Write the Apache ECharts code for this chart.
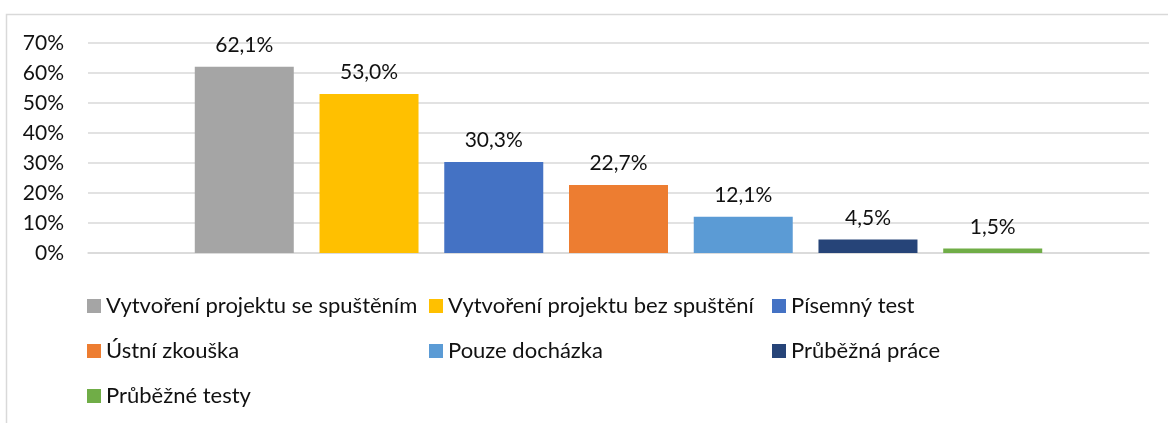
<!DOCTYPE html>
<html>
<head>
<meta charset="utf-8">
<script src="https://cdn.jsdelivr.net/npm/echarts@6/dist/echarts.min.js"></script>
<style>
  html, body { margin: 0; padding: 0; background: #fff; }
  #chart { width: 1168px; height: 423px; }
</style>
</head>
<body>
<div id="chart"></div>
<script>
// Forms of course assessment and share of respondents (%)
const seriesNames = [
  'Vytvoření projektu se spuštěním',
  'Vytvoření projektu bez spuštění',
  'Písemný test',
  'Ústní zkouška',
  'Pouze docházka',
  'Průběžná práce',
  'Průběžné testy'
];
const seriesValues = [62.1, 53.0, 30.3, 22.7, 12.1, 4.5, 1.5];
const seriesColors = ['#A5A5A5', '#FFC000', '#4472C4', '#ED7D31', '#5B9BD5', '#264478', '#70AD47'];
const yTicks = { min: 0, max: 70, interval: 10 };

const FONT = 'Lato, "Open Sans", sans-serif';
const TEXT = '#111';

const fmt = v => v.toFixed(1).replace('.', ',') + '%';

const series = seriesNames.map((name, i) => ({
  name: name,
  type: 'bar',
  data: [seriesValues[i]],
  barWidth: 99,
  barGap: '26%',
  itemStyle: { color: seriesColors[i] },
  label: {
    show: true,
    position: 'top',
    distance: 11,
    color: TEXT,
    fontFamily: FONT,
    fontSize: 21,
    formatter: p => fmt(p.value)
  }
}));

// legend laid out in three columns
const legendBase = {
  orient: 'vertical',
  itemWidth: 14,
  itemHeight: 14,
  itemGap: 23,
  icon: 'rect',
  textStyle: { color: TEXT, fontFamily: FONT, fontSize: 22, lineHeight: 22 },
  top: 290
};
const legends = [
  Object.assign({}, legendBase, { left: 82, data: [seriesNames[0], seriesNames[3], seriesNames[6]] }),
  Object.assign({}, legendBase, { left: 424, data: [seriesNames[1], seriesNames[4]] }),
  Object.assign({}, legendBase, { left: 767, data: [seriesNames[2], seriesNames[5]] })
];

const chart = echarts.init(document.getElementById('chart'), null, { renderer: 'canvas' });
chart.setOption({
  backgroundColor: '#fff',
  animation: false,
  graphic: [{
    type: 'polyline',
    shape: { points: [[6.5, 423], [6.5, 14.5], [1168, 14.5]] },
    style: { stroke: '#d9d9d9', lineWidth: 1.5, fill: null },
    silent: true
  }],
  legend: legends,
  grid: { left: 88, right: 19, top: 43, height: 210, containLabel: false },
  xAxis: {
    type: 'category',
    data: [''],
    axisLine: { show: true, lineStyle: { color: '#d9d9d9', width: 1.5 } },
    axisTick: { show: false },
    axisLabel: { show: false }
  },
  yAxis: {
    type: 'value',
    min: yTicks.min,
    max: yTicks.max,
    interval: yTicks.interval,
    axisLine: { show: false },
    axisTick: { show: false },
    splitLine: { lineStyle: { color: '#d9d9d9', width: 1.5 } },
    axisLabel: {
      margin: 24,
      color: TEXT,
      fontFamily: FONT,
      fontSize: 21,
      formatter: v => v + '%'
    }
  },
  series: series
});
</script>
</body>
</html>
